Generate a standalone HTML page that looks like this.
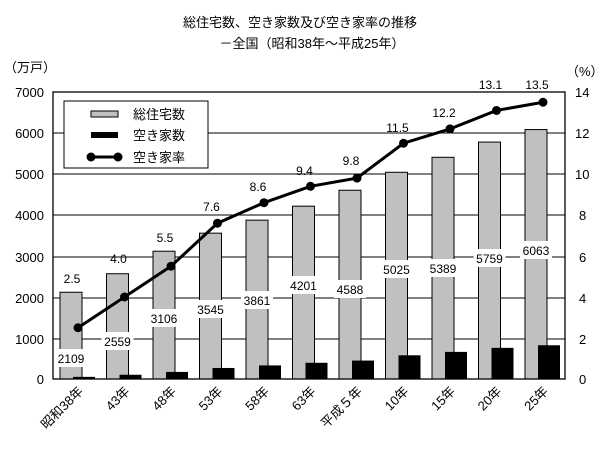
<!DOCTYPE html>
<html><head><meta charset="utf-8"><style>
body{margin:0;background:#fff}
text{font-family:"Liberation Sans","Noto Sans CJK JP",sans-serif;fill:#000}
</style></head><body>
<svg width="600" height="450" xmlns="http://www.w3.org/2000/svg">
<text x="300" y="27" font-size="13" text-anchor="middle">総住宅数、空き家数及び空き家率の推移</text>
<text x="312" y="48" font-size="13" text-anchor="middle">－全国（昭和38年～平成25年）</text>
<text x="4" y="72" font-size="13">（万戸）</text>
<text x="566" y="76" font-size="13">（%）</text>
<g stroke="#000" stroke-width="1">
<line x1="53" y1="133" x2="565" y2="133"/><line x1="53" y1="174" x2="565" y2="174"/>
<line x1="53" y1="215" x2="565" y2="215"/><line x1="53" y1="257" x2="565" y2="257"/>
<line x1="53" y1="298" x2="565" y2="298"/><line x1="53" y1="339" x2="565" y2="339"/>
</g>
<g id="bars"></g>
<rect x="53" y="92" width="512" height="287" fill="none" stroke="#000" stroke-width="1.3"/>
<g font-size="13" text-anchor="end">
<text x="44" y="97">7000</text><text x="44" y="138">6000</text><text x="44" y="179">5000</text>
<text x="44" y="220">4000</text><text x="44" y="262">3000</text><text x="44" y="303">2000</text>
<text x="44" y="344">1000</text><text x="44" y="384">0</text>
</g>
<g font-size="13">
<text x="575" y="97">14</text><text x="575" y="138">12</text><text x="575" y="179">10</text>
<text x="579" y="220">8</text><text x="579" y="262">6</text><text x="579" y="303">4</text>
<text x="579" y="344">2</text><text x="579" y="384">0</text>
</g>
<g id="line"></g>
<rect x="64" y="101" width="144" height="67" fill="#fff" stroke="#000"/>
<rect x="91" y="111" width="27" height="6" fill="#c0c0c0" stroke="#000"/>
<rect x="91" y="132" width="27" height="6" fill="#000"/>
<line x1="91" y1="157" x2="118" y2="157" stroke="#000" stroke-width="3"/>
<circle cx="91" cy="157" r="4.5"/><circle cx="118" cy="157" r="4.5"/>
<g font-size="13"><text x="133" y="119">総住宅数</text><text x="133" y="140">空き家数</text><text x="133" y="162">空き家率</text></g>
<g id="xl" font-size="13"></g>
</svg>
<script>
var tot=[2109,2559,3106,3545,3861,4201,4588,5025,5389,5759,6063],
vac=[52,103,172,268,330,394,448,576,659,757,820],
rate=[2.5,4.0,5.5,7.6,8.6,9.4,9.8,11.5,12.2,13.1,13.5],
ly=[358,341,318,309,300,285,289,269,268,258,250],
ry=[278,258,237,206,186,170,160,127,112,84,84],
xl=["昭和38年","43年","48年","53年","58年","63年","平成５年","10年","15年","20年","25年"];
var ns="http://www.w3.org/2000/svg";
function el(p,t,a,tx){var e=document.createElementNS(ns,t);for(var k in a)e.setAttribute(k,a[k]);if(tx)e.textContent=tx;p.appendChild(e);return e;}
var B=document.getElementById("bars"),L=document.getElementById("line"),X=document.getElementById("xl");
var pts=[];
for(var i=0;i<11;i++){
 var gx=60+46.5*i, h=tot[i]*0.04114;
 el(B,"rect",{x:gx,y:379-h,width:22,height:h,fill:"#c0c0c0",stroke:"#000","stroke-width":1});
 var bh=vac[i]*0.04114;
 el(B,"rect",{x:gx+13,y:379-bh,width:22,height:bh,fill:"#000"});
 el(B,"rect",{x:gx+11-16,y:ly[i]-9,width:32,height:18,fill:"#fff"});
 el(B,"text",{x:gx+11,y:ly[i]+5,"font-size":12,"text-anchor":"middle"},String(tot[i]));
 var px=78+46.5*i, py=379-rate[i]*20.5;
 pts.push(px+","+py);
 el(X,"text",{x:0,y:0,"text-anchor":"end",transform:"translate("+(gx+24)+",392) rotate(-45)"},xl[i]);
}
el(L,"polyline",{points:pts.join(" "),fill:"none",stroke:"#000","stroke-width":3});
for(var i=0;i<11;i++){var px=78+46.5*i,py=379-rate[i]*20.5;
 el(L,"circle",{cx:px,cy:py,r:4.5});
 el(L,"text",{x:px-6,y:ry[i]+5,"font-size":12,"text-anchor":"middle"},rate[i].toFixed(1));}
</script>
</body></html>
